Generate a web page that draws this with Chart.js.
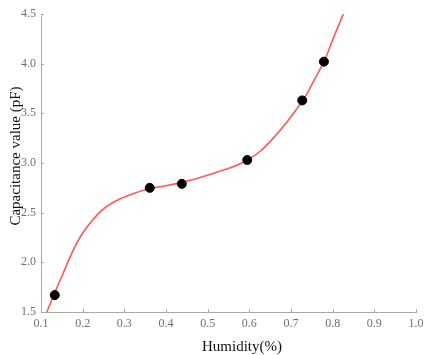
<!DOCTYPE html>
<html>
<head>
<meta charset="utf-8">
<script src="https://cdn.jsdelivr.net/npm/chart.js@4/dist/chart.umd.min.js"></script>
<style>
  html, body { margin: 0; padding: 0; background: #fff; }
  #wrap { width: 425px; height: 355px; position: relative; }
</style>
</head>
<body>
<div id="wrap"><canvas id="chart"></canvas></div>
<script>
// measured points
const humidity = [0.133, 0.361, 0.438, 0.595, 0.727, 0.779];
const capacitance = [1.67, 2.75, 2.79, 3.03, 3.63, 4.02];

// fitted curve
const fitX = [0.114, 0.147, 0.192, 0.2375, 0.2735, 0.321, 0.36, 0.4335, 0.513, 0.596, 0.6575, 0.728, 0.7535, 0.779, 0.8015, 0.8255];
const fitY = [1.50, 1.83, 2.24, 2.49, 2.605, 2.69, 2.74, 2.80, 2.895, 3.03, 3.25, 3.627, 3.82, 4.02, 4.255, 4.50];

const xTicks = [0.1, 0.2, 0.3, 0.4, 0.5, 0.6, 0.7, 0.8, 0.9, 1.0];
const yTicks = [1.5, 2.0, 2.5, 3.0, 3.5, 4.0, 4.5];

const axisColor = '#a8a8a8';
const tickFont = { family: 'Liberation Serif', size: 12 };

// small inward tick marks plus the two axis titles
const decorations = {
  id: 'decorations',
  afterDraw(chart) {
    const ctx = chart.ctx;
    const x = chart.scales.x, y = chart.scales.y;
    const area = chart.chartArea;
    ctx.save();
    ctx.strokeStyle = axisColor;
    ctx.lineWidth = 1;
    ctx.beginPath();
    xTicks.forEach(v => {
      const px = Math.round(x.getPixelForValue(v)) + 0.5;
      ctx.moveTo(px, area.bottom);
      ctx.lineTo(px, area.bottom - 3);
    });
    yTicks.forEach(v => {
      const py = Math.round(y.getPixelForValue(v)) + 0.5;
      ctx.moveTo(area.left, py);
      ctx.lineTo(area.left + 3, py);
    });
    ctx.stroke();

    ctx.fillStyle = '#111';
    ctx.font = '15px "Liberation Serif"';
    ctx.textAlign = 'center';
    ctx.textBaseline = 'middle';
    ctx.fillText('Humidity(%)', 242, 347);
    ctx.translate(16, 156);
    ctx.rotate(-Math.PI / 2);
    ctx.fillText('Capacitance value (pF)', 0, 0);
    ctx.restore();
  }
};

new Chart(document.getElementById('chart'), {
  type: 'scatter',
  data: {
    datasets: [
      {
        label: 'Fit',
        type: 'line',
        data: fitX.map((v, i) => ({ x: v, y: fitY[i] })),
        borderColor: '#ff5a5a',
        borderWidth: 1.6,
        pointRadius: 0,
        tension: 0.4,
        fill: false,
        order: 2
      },
      {
        label: 'Measured',
        data: humidity.map((v, i) => ({ x: v, y: capacitance[i] })),
        backgroundColor: '#000',
        borderColor: '#000',
        pointRadius: 4.5,
        order: 1
      }
    ]
  },
  options: {
    responsive: true,
    maintainAspectRatio: false,
    animation: false,
    layout: { padding: { top: 14, right: 0, left: 0, bottom: 0 } },
    plugins: {
      legend: { display: false },
      tooltip: { enabled: false }
    },
    scales: {
      x: {
        type: 'linear',
        min: 0.1,
        max: 1.0,
        afterBuildTicks: s => { s.ticks = xTicks.map(v => ({ value: v })); },
        afterFit: s => { s.height = 43; s.paddingRight = 9; s.paddingLeft = 0; },
        grid: { display: false, drawTicks: false },
        border: { display: true, color: axisColor, width: 1 },
        ticks: {
          color: '#707070',
          font: tickFont,
          padding: 5,
          maxRotation: 0,
          callback: v => v.toFixed(1)
        }
      },
      y: {
        min: 1.5,
        max: 4.5,
        afterBuildTicks: s => { s.ticks = yTicks.map(v => ({ value: v })); },
        afterFit: s => { s.width = 41; s.paddingTop = 0; s.paddingBottom = 0; },
        grid: { display: false, drawTicks: false },
        border: { display: true, color: axisColor, width: 1 },
        ticks: {
          color: '#707070',
          font: tickFont,
          padding: 5,
          callback: v => v.toFixed(1)
        }
      }
    }
  },
  plugins: [decorations]
});
</script>
</body>
</html>
